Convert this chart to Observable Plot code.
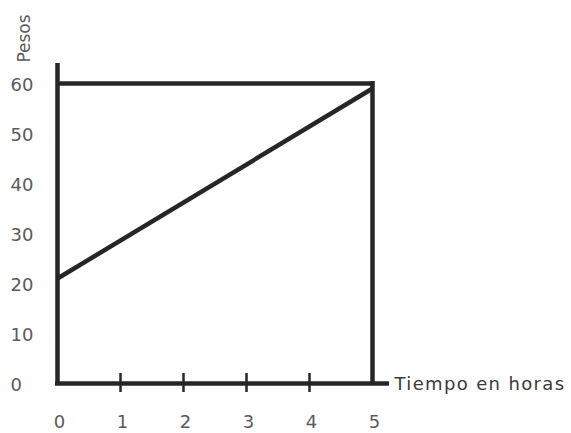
<!DOCTYPE html>
<html>
<head>
<meta charset="utf-8">
<script src="https://cdn.jsdelivr.net/npm/d3@7"></script>
<script src="https://cdn.jsdelivr.net/npm/@observablehq/plot@0.6"></script>
<style>
  html, body { margin: 0; padding: 0; background: #fff; }
  #chart svg { display: block; }
</style>
</head>
<body>
<div id="chart"></div>
<script>
const horas = [0, 5];
const pesosLinea = [21, 59];
const techo = 60;
const xTicks = [0, 1, 2, 3, 4, 5];
const xMarks = [1, 2, 3, 4];
const yTicks = [0, 10, 20, 30, 40, 50, 60];
const xLabel = "Tiempo en horas";
const yLabel = "Pesos";

const linea = horas.map((h, i) => ({x: h, y: pesosLinea[i]}));
const ink = "#262626";
const font = "Verdana, 'DejaVu Sans', sans-serif";

const chart = Plot.plot({
  width: 571,
  height: 433,
  margin: 0,
  style: {fontFamily: font, background: "#fff"},
  x: {domain: [0, 5], range: [57, 372], axis: null},
  y: {domain: [0, 60], range: [383, 83], axis: null},
  marks: [
    // y axis line (extends above 60)
    Plot.ruleX([0], {y1: techo, y2: 0, stroke: ink, strokeWidth: 4.5, insetTop: -20, insetBottom: -2}),
    // x axis line (extends past 5)
    Plot.ruleY([0], {x1: 0, x2: 5, stroke: ink, strokeWidth: 4.5, insetRight: -17, insetLeft: -2}),
    // horizontal line at 60
    Plot.ruleY([techo], {x1: 0, x2: 5, stroke: ink, strokeWidth: 4.5, insetRight: -2}),
    // vertical line at 5
    Plot.ruleX([5], {y1: techo, y2: 0, stroke: ink, strokeWidth: 4.5, insetTop: -2, insetBottom: -2}),
    // diagonal line
    Plot.line(linea, {x: "x", y: "y", stroke: ink, strokeWidth: 4.5, strokeLinecap: "butt"}),
    // x tick marks
    Plot.ruleX(xMarks, {x: d => d, y1: 0, y2: 0, stroke: ink, strokeWidth: 2.5, insetTop: -10, insetBottom: -9}),
    // x tick labels
    Plot.text(xTicks, {x: d => d, y: 0, text: d => String(d), dy: 39, dx: 2, fontSize: 18, fill: "#5a5a5a"}),
    // y tick labels
    Plot.text(yTicks, {x: 0, y: d => d, text: d => String(d), dx: -47, dy: 2, textAnchor: "start", fontSize: 18, fill: "#5a5a5a"}),
    // x label
    Plot.text([xLabel], {x: 5, y: 0, text: d => d, dx: 22, dy: 1, textAnchor: "start", fontSize: 18, fill: "#3a3a3a"}),
    // y label
    Plot.text([yLabel], {x: 0, y: techo, text: d => d, dx: -33, dy: -45, rotate: -90, fontSize: 17, fill: "#5a5a5a"})
  ]
});
d3.select(chart).selectAll("text")
  .filter(function () { return this.textContent === xLabel; })
  .style("letter-spacing", "1.35px");
document.getElementById("chart").appendChild(chart);
</script>
</body>
</html>
